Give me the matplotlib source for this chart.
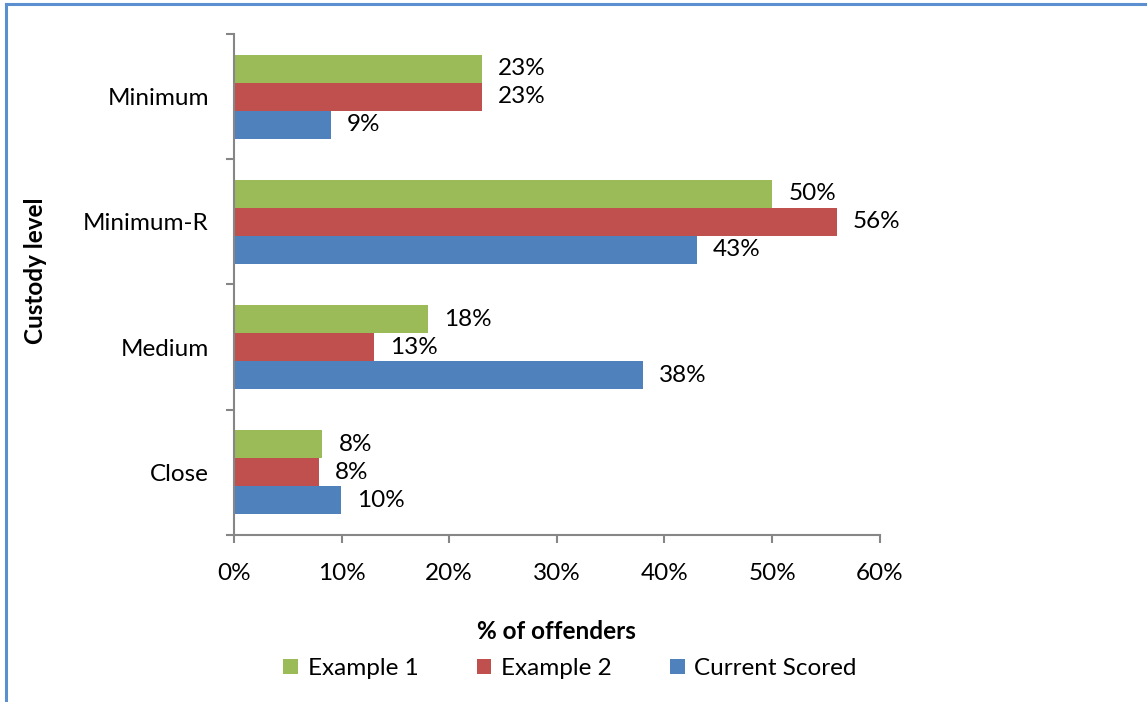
import matplotlib.pyplot as plt
import numpy as np
from matplotlib.lines import Line2D
from matplotlib.ticker import FuncFormatter, FixedLocator

plt.rcParams['font.family'] = ['Lato', 'DejaVu Sans']

# data (bottom to top)
categories = ["Close", "Medium", "Minimum-R", "Minimum"]
example1 = [0.082, 0.18, 0.50, 0.23]
example2 = [0.079, 0.13, 0.56, 0.23]
current = [0.099, 0.38, 0.43, 0.09]
series_names = ["Example 1", "Example 2", "Current Scored"]
colors = ["#9BBB59", "#C0504D", "#4F81BD"]

fig = plt.figure(figsize=(11.47, 7.02), dpi=100)
ax = fig.add_axes([0.204, 0.238, 0.563, 0.7136])

y = np.arange(len(categories))
h = 0.224
offsets = [h, 0, -h]
fs = 17.5

for vals, off, c, name in zip([example1, example2, current], offsets, colors, series_names):
    bars = ax.barh(y + off, vals, height=h, color=c, label=name)
    for b, v in zip(bars, vals):
        ax.text(v + 0.015, b.get_y() + h / 2, "%d%%" % round(v * 100),
                va="center", ha="left", fontsize=fs)

ax.set_xlim(0, 0.6)
ax.set_ylim(-0.5, 3.5)
ax.xaxis.set_major_formatter(FuncFormatter(lambda v, p: "%d%%" % round(v * 100)))
ax.set_xticks(np.arange(0, 0.61, 0.1))
ax.set_yticks(y)
ax.set_yticklabels(categories)
ax.yaxis.set_minor_locator(FixedLocator(np.arange(-0.5, 3.6, 1)))
ax.tick_params(axis="y", which="major", length=0, pad=18, labelsize=fs)
ax.tick_params(axis="y", which="minor", length=6, color="#868686", width=1.5)
ax.tick_params(axis="x", length=6, color="#868686", width=1.5, labelsize=fs, pad=14)

for s in ["top", "right"]:
    ax.spines[s].set_visible(False)
for s in ["left", "bottom"]:
    ax.spines[s].set_color("#868686")
    ax.spines[s].set_linewidth(1.5)

ax.set_xlabel("% of offenders", fontsize=fs, fontweight="bold", labelpad=26)
fig.text(0.031, 0.615, "Custody level", rotation=90, fontsize=fs,
         fontweight="bold", ha="center", va="center")

ax.legend(loc="center", bbox_to_anchor=(0.497, 0.048), bbox_transform=fig.transFigure,
          ncol=3, frameon=False, fontsize=fs, handlelength=0.6, handleheight=0.6,
          handletextpad=0.4, columnspacing=2.4)

# chart frame lines
fig.add_artist(Line2D([0.005, 1.0], [0.994, 0.994], transform=fig.transFigure,
                      color="#5B8FD0", lw=2.2))
fig.add_artist(Line2D([0.005, 0.005], [0.0, 0.994], transform=fig.transFigure,
                      color="#5B8FD0", lw=2.2))

fig.savefig("out.png", dpi=100)
